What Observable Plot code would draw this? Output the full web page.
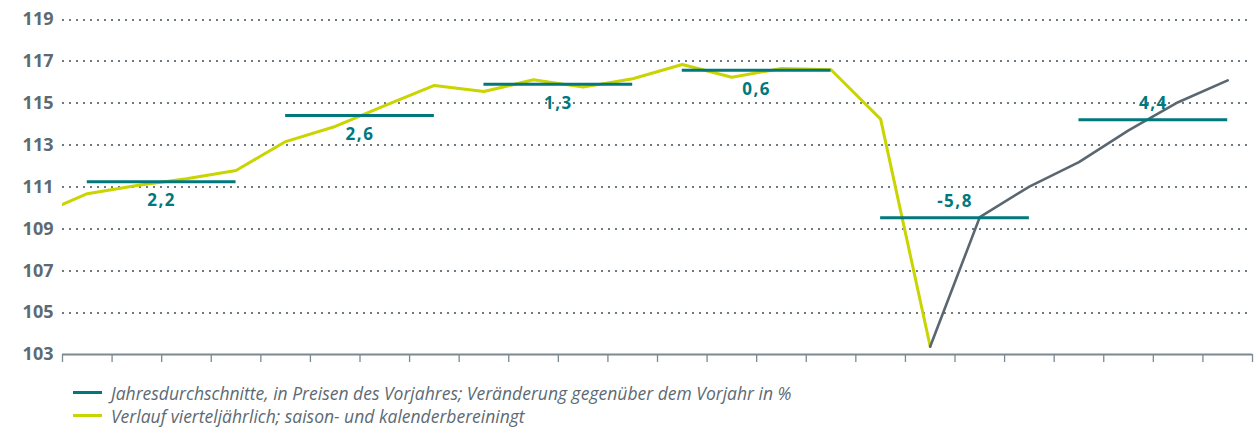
<!DOCTYPE html>
<html>
<head>
<meta charset="utf-8">
<script src="https://cdn.jsdelivr.net/npm/d3@7"></script>
<script src="https://cdn.jsdelivr.net/npm/@observablehq/plot@0.6"></script>
<style>
  body { margin: 0; background: #fff; }
  #chart svg { display: block; }
  .legend { padding-top: 9px; font-family: "Open Sans", sans-serif; font-style: italic; font-size: 17.5px; color: #5d6a73; }
  .legend .item { display: flex; align-items: center; height: 23px; margin-left: 73px; }
  .legend .sw { width: 29px; height: 3px; margin-right: 9px; }
</style>
</head>
<body>
<div id="chart"></div>
<div class="legend">
  <div class="item"><span class="sw" style="background:#00787c"></span><span id="l1"></span></div>
  <div class="item"><span class="sw" style="background:#c9d400"></span><span id="l2"></span></div>
</div>
<script>
// ---- data ----
const years = [2016, 2017, 2018, 2019, 2020, 2021];
// quarterly index, seasonally and calendar adjusted; first value = 2015 Q4, last = 2020 Q2
const quarterlyActual = [109.66,
  110.68, 111.07, 111.39, 111.79,
  113.17, 113.89, 114.89, 115.85,
  115.56, 116.12, 115.77, 116.17,
  116.85, 116.24, 116.66, 116.60,
  114.24, 103.38];
// projection: 2020 Q2 .. 2021 Q4
const quarterlyForecast = [103.38, 109.56, 111.02, 112.19, 113.70, 115.05, 116.09];
const annualAverage = [111.25, 114.42, 115.91, 116.58, 109.53, 114.21];
const annualChange = ["2,2", "2,6", "1,3", "0,6", "-5,8", "4,4"];
const yTicks = [103, 105, 107, 109, 111, 113, 115, 117, 119];
const legendLabels = [
  "Jahresdurchschnitte, in Preisen des Vorjahres; Veränderung gegenüber dem Vorjahr in %",
  "Verlauf vierteljährlich; saison- und kalenderbereiningt"
];

// ---- derived tables ----
const actual = quarterlyActual.map((v, i) => ({q: i - 1 + 0.5, v}));
const forecast = quarterlyForecast.map((v, i) => ({q: 17 + i + 0.5, v}));
const annual = years.map((y, i) => ({year: y, x1: 4 * i + 0.5, x2: 4 * i + 3.5, xm: 4 * i + 2, v: annualAverage[i], label: annualChange[i]}));
const labelAbove = annual.map(d => d.year >= 2020);
const nQuarters = years.length * 4;

const teal = "#00787c", lime = "#c9d400", slate = "#5b6770", tickCol = "#5d6a73";

const chart = Plot.plot({
  width: 1259,
  height: 372,
  marginLeft: 62,
  marginRight: 7,
  marginTop: 19,
  marginBottom: 18,
  style: {fontFamily: "'Noto Sans', sans-serif", background: "#fff"},
  x: {type: "linear", domain: [0, nQuarters], axis: null},
  y: {domain: [103, 119], axis: null},
  marks: [
    Plot.ruleY(yTicks.filter(t => t > 103), {stroke: "#6f7b83", strokeWidth: 2, strokeDasharray: "2,5", className: "grid"}),
    Plot.axisY(yTicks, {tickSize: 0, tickPadding: 9, fontSize: 18, fontWeight: "bold", fill: tickCol, anchor: "left", label: null}),
    Plot.axisX(d3.range(nQuarters + 1), {tickSize: 8, tickFormat: () => "", stroke: "#7d8990", strokeWidth: 1.3, anchor: "bottom", label: null}),
    Plot.ruleY([103], {stroke: "#7d8990", strokeWidth: 2}),
    Plot.line(actual, {x: "q", y: "v", stroke: lime, strokeWidth: 3, clip: true}),
    Plot.line(forecast, {x: "q", y: "v", stroke: slate, strokeWidth: 2.6}),
    Plot.ruleY(annual, {x1: "x1", x2: "x2", y: "v", stroke: teal, strokeWidth: 3}),
    Plot.text(annual.filter((d, i) => !labelAbove[i]), {x: "xm", y: "v", text: "label", dy: 19, fill: teal, fontSize: 17, fontWeight: "bold", className: "vlab"}),
    Plot.text(annual.filter((d, i) => labelAbove[i]), {x: "xm", y: "v", text: "label", dy: -16, fill: teal, fontSize: 17, fontWeight: "bold", className: "vlab"})
  ]
});
chart.querySelectorAll(".vlab text").forEach(t => { t.style.letterSpacing = "1.5px"; });
chart.querySelectorAll(".grid line").forEach(l => { l.setAttribute("stroke-dasharray", "2,5"); l.setAttribute("shape-rendering", "crispEdges"); });
document.getElementById("chart").append(chart);
document.getElementById("l1").textContent = legendLabels[0];
document.getElementById("l2").textContent = legendLabels[1];
</script>
</body>
</html>
